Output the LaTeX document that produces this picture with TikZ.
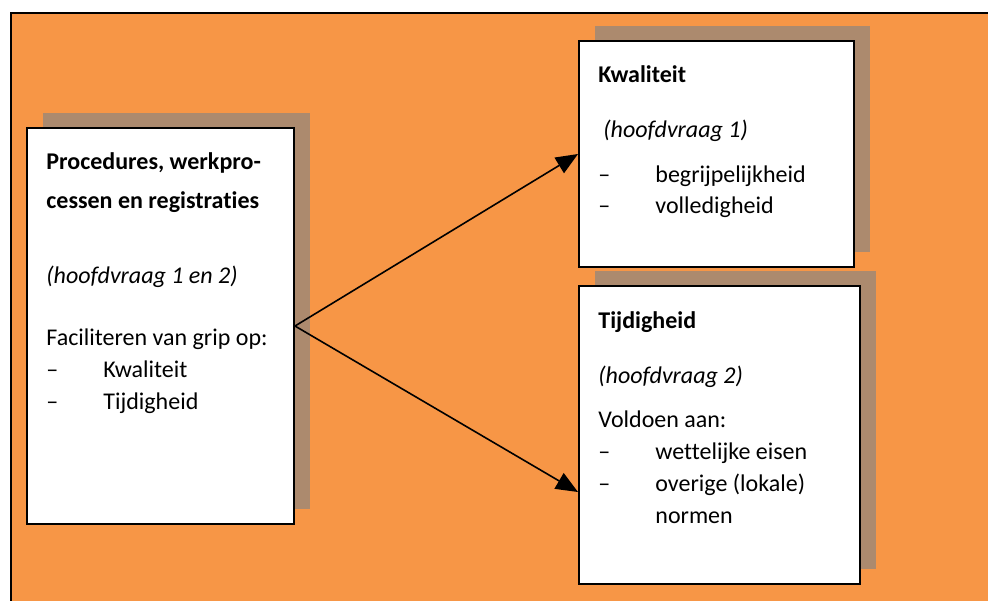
\documentclass[tikz,border=0pt]{standalone}
\usepackage{fontspec}
\setmainfont{Carlito}[Ligatures={NoCommon,TeX}]
\usepackage{tikz}
\usepackage{xcolor}
\usetikzlibrary{arrows.meta,shadows}
\definecolor{frame-orange}{HTML}{F79646}
\definecolor{shadow-grid}{RGB}{172,138,110}
\tikzset{
    text-box/.style = {draw=black, fill=white, line width=1pt, rectangle, inner sep=0pt,
        drop shadow={shadow xshift=8pt, shadow yshift=7.5pt, fill=shadow-grid, opacity=1}},
    box-line/.style = {anchor=base west, inner sep=0pt, font=\fontsize{12}{14}\selectfont},
    box-title/.style = {box-line, font=\fontsize{12}{14}\selectfont\bfseries},
    box-note/.style = {box-line, font=\fontsize{12}{14}\selectfont\itshape},
    link/.style = {line width=0.8pt, -{Triangle[length=11pt,width=9pt]}},
}

\begin{document}
\begin{tikzpicture}[x=0.5pt, y=-0.5pt]
\useasboundingbox (0,0) rectangle (988,600);
\fill[white] (0,0) rectangle (988,600);
\draw[fill=frame-orange, line width=1pt] (11,13) rectangle (1000,615);

% boxes
\node[text-box, minimum width=133.5pt, minimum height=198pt] (proc) at (160.5,326) {};
\node[text-box, minimum width=137.5pt, minimum height=113pt] (kwal) at (716.5,154) {};
\node[text-box, minimum width=140.5pt, minimum height=149pt] (tijd) at (719.5,435) {};

% left box text
\node[box-title] (proc-t1) at (46,169) {Procedures, werkpro-};
\node[box-title] (proc-t2) at (46,208) {cessen en registraties};
\node[box-note] (proc-q) at (46,283) {(hoofdvraag 1 en 2)};
\node[box-line] (proc-l) at (46,345) {Faciliteren van grip op:};
\node[box-line] (proc-d1) at (46,377) {\textendash};
\node[box-line] (proc-i1) at (103,377) {Kwaliteit};
\node[box-line] (proc-d2) at (46,409) {\textendash};
\node[box-line] (proc-i2) at (103,409) {Tijdigheid};

% kwaliteit
\node[box-title] (kwal-t) at (598,82) {Kwaliteit};
\node[box-note] (kwal-q) at (603,137) {(hoofdvraag 1)};
\node[box-line] (kwal-d1) at (598,182) {\textendash};
\node[box-line] (kwal-i1) at (655,182) {begrijpelijkheid};
\node[box-line] (kwal-d2) at (598,213) {\textendash};
\node[box-line] (kwal-i2) at (655,213) {volledigheid};

% tijdigheid
\node[box-title] (tijd-t) at (598,328) {Tijdigheid};
\node[box-note] (tijd-q) at (598,383) {(hoofdvraag 2)};
\node[box-line] (tijd-l) at (598,427) {Voldoen aan:};
\node[box-line] (tijd-d1) at (598,459) {\textendash};
\node[box-line] (tijd-i1) at (655,459) {wettelijke eisen};
\node[box-line] (tijd-d2) at (598,491) {\textendash};
\node[box-line] (tijd-i2) at (655,491) {overige (lokale)};
\node[box-line] (tijd-i3) at (655,523) {normen};

% arrows
\coordinate (tijd-in) at (tijd.west |- 0,492);
\draw[link] (proc.east) -- (kwal.west);
\draw[link] (proc.east) -- (tijd-in);
\end{tikzpicture}
\end{document}
